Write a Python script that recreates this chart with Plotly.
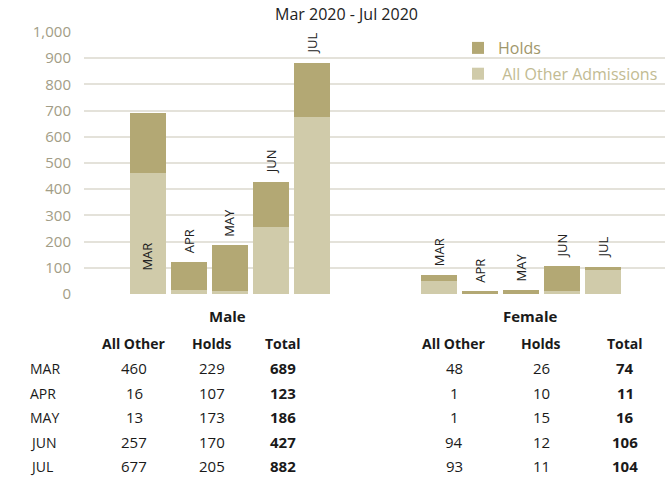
import plotly.graph_objects as go

# ---------------- data ----------------
months = ["MAR", "APR", "MAY", "JUN", "JUL"]
groups = ["Male", "Female"]

# table values
male_other = [460, 16, 13, 257, 677]
male_holds = [229, 107, 173, 170, 205]
male_total = [689, 123, 186, 427, 882]
female_other = [48, 1, 1, 94, 93]
female_holds = [26, 10, 15, 12, 11]
female_total = [74, 11, 16, 106, 104]

# bar heights as drawn in the chart (female JUN segments appear swapped)
male_bar_other = [460, 16, 13, 257, 677]
male_bar_holds = [229, 107, 173, 170, 205]
female_bar_other = [48, 1, 1, 12, 93]
female_bar_holds = [26, 10, 15, 94, 11]

y_ticks = list(range(0, 1001, 100))
title_text = "Mar 2020 - Jul 2020"
col_headers = ["All Other", "Holds", "Total"]

# ---------------- styling / layout constants ----------------
FONT = "Open Sans"
C_HOLDS = "#b3a874"
C_OTHER = "#d0cbaa"
W, H = 665, 479
PLOT_L, PLOT_R, PLOT_T, PLOT_B = 84, 665, 32, 294   # pixel coords of plot area
ML, MR, MT, MB = PLOT_L, W - PLOT_R, PLOT_T, H - PLOT_B
PW = PLOT_R - PLOT_L
PH = PLOT_B - PLOT_T
GROUP_START = [0.0, 7.1]
X_RANGE = [-1.55, 12.62]

def px_to_paper_x(px):
    return (px - PLOT_L) / PW

def px_to_paper_y(py):
    return (PLOT_B - py) / PH

male_x = [GROUP_START[0] + i for i in range(len(months))]
female_x = [GROUP_START[1] + i for i in range(len(months))]
xs = male_x + female_x

fig = go.Figure()
fig.add_trace(go.Bar(
    x=xs, y=male_bar_other + female_bar_other,
    name="<span style='color:#c2bb92'> All Other Admissions</span>",
    marker=dict(color=C_OTHER, line=dict(width=0)),
    width=0.88, legendgroup="o", legendrank=2, hoverinfo="skip",
))
fig.add_trace(go.Bar(
    x=xs, y=male_bar_holds + female_bar_holds,
    name="<span style='color:#9f976b'>Holds</span>",
    marker=dict(color=C_HOLDS, line=dict(width=0)),
    width=0.88, legendgroup="h", legendrank=1, hoverinfo="skip",
))

annotations = []
# month labels on the bars
totals_drawn = [a + b for a, b in zip(male_bar_other + female_bar_other,
                                       male_bar_holds + female_bar_holds)]
labels = months + months
for i, (x, t, lab) in enumerate(zip(xs, totals_drawn, labels)):
    if i == 0:
        annotations.append(dict(x=x, y=141, xref="x", yref="y", text=lab,
                                showarrow=False, textangle=-90,
                                font=dict(family=FONT, size=13, color="#222"),
                                xanchor="center", yanchor="middle"))
    else:
        annotations.append(dict(x=x, y=t, xref="x", yref="y", text=lab,
                                showarrow=False, textangle=-90,
                                font=dict(family=FONT, size=13, color="#222"),
                                xanchor="center", yanchor="bottom", yshift=6))

# title
annotations.append(dict(x=px_to_paper_x(346), y=px_to_paper_y(14), xref="paper", yref="paper",
                        text=title_text, showarrow=False,
                        font=dict(family=FONT, size=16, color="#222"),
                        xanchor="center", yanchor="middle"))

# table
row_y = [368, 393, 417, 442, 466]
group_cx = [227, 530]
col_cx = [[134, 212, 283], [454, 541, 625]]
tables = [[male_other, male_holds, male_total], [female_other, female_holds, female_total]]

def txt(px, py, s, size=15, bold=False, anchor="center"):
    annotations.append(dict(x=px_to_paper_x(px), y=px_to_paper_y(py), xref="paper", yref="paper",
                            text=f"<b>{s}</b>" if bold else s, showarrow=False,
                            font=dict(family=FONT, size=size, color="#1a1a1a"),
                            xanchor=anchor, yanchor="middle"))

for g, name in enumerate(groups):
    txt(group_cx[g], 316, name, size=15, bold=True)
    for c, hdr in enumerate(col_headers):
        txt(col_cx[g][c], 343, hdr, size=14, bold=True)
        for r, v in enumerate(tables[g][c]):
            txt(col_cx[g][c], row_y[r], f"{v}", size=15, bold=(c == 2))
for r, m in enumerate(months):
    txt(28, row_y[r], m, size=14, anchor="left")

fig.update_layout(
    width=W, height=H,
    margin=dict(l=ML, r=MR, t=MT, b=MB),
    barmode="stack",
    plot_bgcolor="white", paper_bgcolor="white",
    showlegend=True,
    legend=dict(x=px_to_paper_x(458), y=px_to_paper_y(31), xanchor="left", yanchor="top",
                traceorder="grouped", tracegroupgap=2,
                font=dict(family=FONT, size=16),
                bgcolor="rgba(0,0,0,0)"),
    xaxis=dict(range=X_RANGE, showticklabels=False, showgrid=False, zeroline=False,
               showline=False, ticks=""),
    yaxis=dict(range=[0, 1000], tickvals=y_ticks, tickformat=",", showgrid=True,
               gridcolor="#e4e2da", gridwidth=1.5, zeroline=False, showline=False,
               ticks="", ticklabelstandoff=12,
               tickfont=dict(family=FONT, size=15, color="#a29d86")),
    annotations=annotations,
    bargap=0,
)

fig.write_html("out.html",
               config={"displayModeBar": False},
               post_script="document.body.style.margin='0';document.body.style.overflow='hidden';")
